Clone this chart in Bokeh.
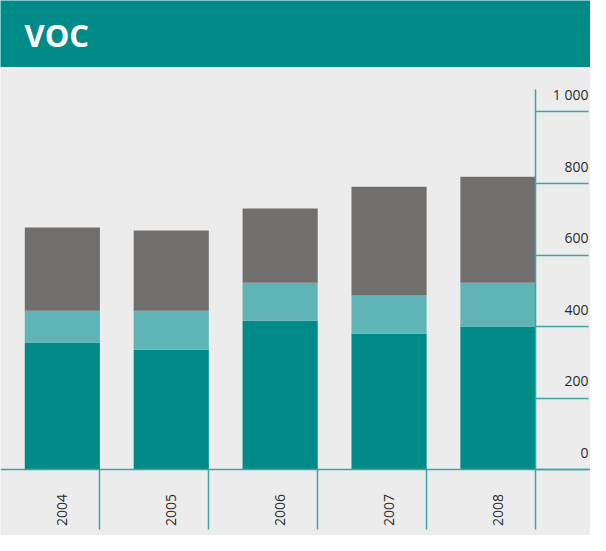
import math
from bokeh.plotting import figure
from bokeh.layouts import column
from bokeh.models import Range1d, LinearAxis, FixedTicker, Label, ColumnDataSource
from bokeh.core.properties import value
from bokeh.embed import file_html
from bokeh.resources import INLINE

# ---- data ----
years = ["2004", "2005", "2006", "2007", "2008"]
series = ["base", "middle", "top"]
base = [356, 336, 417, 381, 401]
middle = [89, 109, 106, 106, 122]
top = [232, 224, 207, 304, 296]
yticks = [0, 200, 400, 600, 800, 1000]
ytick_labels = ["0", "200", "400", "600", "800", "1 000"]
title = "VOC"

# ---- style ----
TEAL = "#008b88"
LIGHT = "#5fb5b6"
GRAY = "#706f6d"
BG = "#ececec"
LINE = "#3fa3a0"
TXT = "#2b2b2b"
FONT = "Open Sans"
W = 590
HEAD_H = 67
MAIN_H = 468
bar_w = 0.69

# ---- header ----
head = figure(width=W, height=HEAD_H, x_range=Range1d(0, W), y_range=Range1d(0, HEAD_H),
              output_backend="svg", toolbar_location=None, x_axis_type=None, y_axis_type=None,
              min_border=0, background_fill_color=TEAL, border_fill_color=TEAL,
              outline_line_color=None)
head.add_layout(Label(x=24, y=33, text=title, text_color="white", text_font=FONT,
                      text_font_size="31px", text_font_style="bold",
                      text_baseline="alphabetic"))

# ---- main chart ----
xs = list(range(len(years)))
src = ColumnDataSource(dict(x=xs, base=base, middle=middle, top=top))

y0, y1 = -183, 1124
p = figure(width=W, height=MAIN_H, x_range=Range1d(-0.568, 4.85), y_range=Range1d(y0, y1),
           output_backend="svg", toolbar_location=None, x_axis_type=None, y_axis_type=None,
           min_border=0, background_fill_color=BG, border_fill_color=BG,
           outline_line_color=None)

p.vbar_stack(series, x="x", width=bar_w, source=src,
             fill_color=[TEAL, LIGHT, GRAY], line_color=None)

axis_x = xs[-1] + bar_w / 2
seps = [x + bar_w / 2 for x in xs[:-1]]

# vertical axis line with tick lines pointing right
ax_ticks = LinearAxis(fixed_location=axis_x, bounds=(-166, 1062),
                      ticker=FixedTicker(ticks=yticks),
                      major_tick_out=53, major_tick_in=0,
                      minor_tick_out=0, minor_tick_in=0,
                      minor_tick_line_color=None,
                      axis_line_color=LINE, axis_line_width=1.5,
                      major_tick_line_color=LINE, major_tick_line_width=1.5,
                      major_label_text_color=None)
p.add_layout(ax_ticks, "right")

# tick labels, right aligned, sitting above the tick lines
lab_src = ColumnDataSource(dict(x=[axis_x] * len(yticks), y=yticks, t=ytick_labels))
p.text(x="x", y="y", text="t", source=lab_src, x_offset=53, y_offset=-17,
       text_align="right", text_baseline="alphabetic",
       text_font=value(FONT), text_font_size=value("14px"), text_color=TXT)

# baseline with year labels
ax_years = LinearAxis(fixed_location=0, ticker=FixedTicker(ticks=xs),
                      major_label_overrides={x: y for x, y in zip(xs, years)},
                      major_label_orientation=math.pi / 2,
                      major_label_standoff=24,
                      major_tick_out=0, major_tick_in=0, major_tick_line_color=None,
                      minor_tick_line_color=None,
                      axis_line_color=LINE, axis_line_width=1.5,
                      major_label_text_font=FONT, major_label_text_font_size="14px",
                      major_label_text_color=TXT)
p.add_layout(ax_years, "below")

# separators between categories
ax_sep = LinearAxis(fixed_location=0, ticker=FixedTicker(ticks=seps),
                    major_tick_out=60, major_tick_in=0,
                    major_tick_line_color=LINE, major_tick_line_width=1.5,
                    minor_tick_line_color=None, axis_line_color=None,
                    major_label_text_color=None)
p.add_layout(ax_sep, "below")

layout = column(head, p, spacing=0)
open("out.html", "w").write(file_html(layout, INLINE))
